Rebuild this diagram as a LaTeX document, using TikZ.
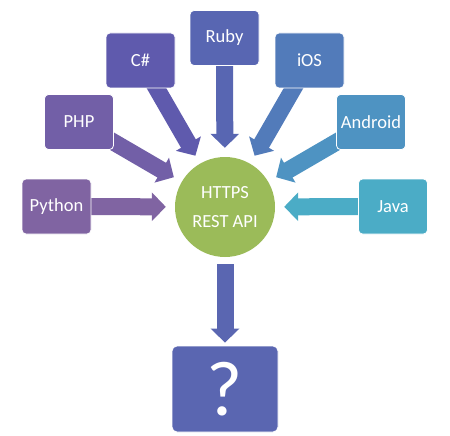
\documentclass[tikz,border=0pt]{standalone}
\usepackage{fontspec}
\setmainfont{Carlito}
\usetikzlibrary{arrows.meta,backgrounds}

\definecolor{cPython}{HTML}{8064A2}
\definecolor{cPHP}{HTML}{725FA7}
\definecolor{cCsharp}{HTML}{5F5AAD}
\definecolor{cRuby}{HTML}{5866B2}
\definecolor{cIOS}{HTML}{527BBA}
\definecolor{cAndroid}{HTML}{4E93C2}
\definecolor{cJava}{HTML}{4BACC6}
\definecolor{cApi}{HTML}{9BBB59}
\definecolor{cOut}{HTML}{5A66B1}

\tikzset{
    lang/.style={rectangle, rounded corners=4pt, draw=white, line width=0.8pt,
        minimum width=69pt, minimum height=55pt, text=white,
        font=\fontsize{18.5}{22}\selectfont},
    feed/.style={line width=17pt, -{Triangle[width=28pt,length=14pt]}, shorten >=9pt}
}

\begin{document}
\begin{tikzpicture}[x=1pt, y=-1pt]
    	\useasboundingbox (0, 0) rectangle (450, 436);
    	% Languages and the API:
    	\node[lang, fill=cPython] (python) at (56.5, 206.5){Python};
    	\node[lang, fill=cPHP] (php) at (79, 122){PHP};
    	\node[lang, fill=cCsharp] (csharp) at (140.5, 60.5){C\#};
    	\node[lang, fill=cRuby] (ruby) at (224.5, 38){Ruby};
    	\node[lang, fill=cIOS] (ios) at (309.5, 60.5){iOS};
    	\node[lang, fill=cAndroid] (android) at (371, 122){Android};
    	\node[lang, fill=cJava] (java) at (393, 206.5){Java};
    	\node[circle, fill=cApi, minimum size=100pt, inner sep=0pt, text=white, align=center,
    	    font=\fontsize{18.5}{29}\selectfont] (api) at (225, 207){HTTPS\\REST API};
    	\node[rectangle, rounded corners=5pt, draw=white, line width=0.8pt, fill=cOut,
    	    minimum width=106pt, minimum height=86pt, text=white,
    	    font=\fontsize{78}{78}\selectfont] (out) at (225, 389){?};
    	% Arrows:
    	\begin{scope}[on background layer]
    	\draw[feed, cPython] (python.center) -- (api);
    	\draw[feed, cPHP] (php.center) -- (api);
    	\draw[feed, cCsharp] (csharp.center) -- (api);
    	\draw[feed, cRuby] (ruby.center) -- (api);
    	\draw[feed, cIOS] (ios.center) -- (api);
    	\draw[feed, cAndroid] (android.center) -- (api);
    	\draw[feed, cJava] (java.center) -- (api);
    	\draw[feed, cOut, shorten <=7pt, shorten >=3pt] (api) -- (out);
    	\end{scope}
\end{tikzpicture}
\end{document}
